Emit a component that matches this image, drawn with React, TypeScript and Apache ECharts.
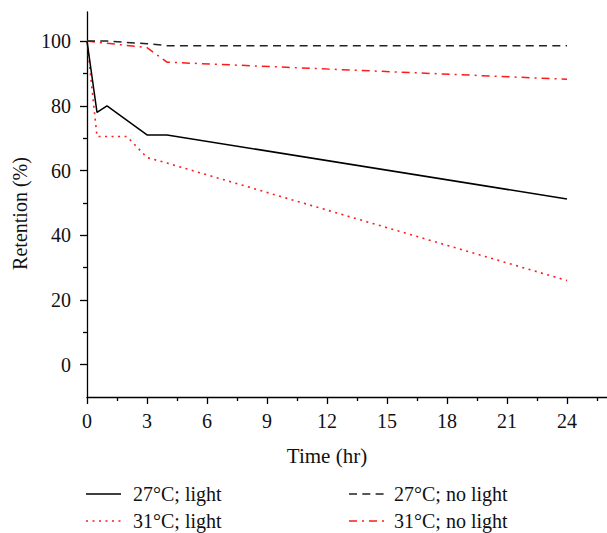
import React, { useEffect, useRef } from "react";
import * as echarts from "echarts";

// ---- data ----
const time27Light = [0, 0.5, 1, 3, 4, 24];
const ret27Light = [100, 78, 80, 71, 71, 51.2];

const time31Light = [0, 0.5, 2, 3, 4, 24];
const ret31Light = [100, 70.5, 70.5, 64, 62.3, 26];

const time27Dark = [0, 1, 3, 4, 24];
const ret27Dark = [100, 100, 99.2, 98.6, 98.6];

const time31Dark = [0, 3, 4, 24];
const ret31Dark = [100, 98, 93.5, 88.2];

const xMajorTicks = [0, 3, 6, 9, 12, 15, 18, 21, 24];
const xMinorTicks = [1.5, 4.5, 7.5, 10.5, 13.5, 16.5, 19.5, 22.5, 25.5];
const yMajorTicks = [0, 20, 40, 60, 80, 100];
const yMinorTicks = [10, 30, 50, 70, 90];

const seriesNames = ["27°C; light", "31°C; light", "27°C; no light", "31°C; no light"];

const FONT = "'Liberation Serif', 'DejaVu Serif', serif";

const RED = "#ff1a1a";
const styles = [
  { color: "#000", width: 1.5, dash: null as number[] | null },
  { color: RED, width: 1.6, dash: [2, 4.5] },
  { color: "#222", width: 1.5, dash: [8, 5.3] },
  { color: RED, width: 1.5, dash: [8, 5, 2, 5] },
];

const zip = (xs: number[], ys: number[]) => xs.map((x, i) => [x, ys[i]]);

export default function App() {
  const ref = useRef<HTMLDivElement>(null);

  useEffect(() => {
    if (!ref.current) return;
    const chart = echarts.init(ref.current, undefined, { renderer: "svg" });
    const axisColor = "#000";
    const baseX = {
      type: "value",
      min: 0,
      max: 26,
      position: "bottom",
      splitLine: { show: false },
    };
    const baseY = {
      type: "value",
      min: -10,
      max: 109,
      position: "left",
      splitLine: { show: false },
    };

    // legend drawn as graphic: [lineX1, textX, centerY]
    const legendPos = [
      [86, 133, 494],
      [86, 133, 521],
      [349, 394, 494],
      [349, 394, 521],
    ];
    const legendGraphics: any[] = [];
    seriesNames.forEach((name, i) => {
      const [lx, tx, cy] = legendPos[i];
      const st = styles[i];
      legendGraphics.push({
        type: "line",
        shape: { x1: lx, y1: cy, x2: lx + 35, y2: cy },
        style: { stroke: st.color, lineWidth: st.width, lineDash: st.dash || undefined },
        silent: true,
      });
      legendGraphics.push({
        type: "text",
        x: tx,
        y: cy,
        style: {
          text: name,
          fontSize: 20,
          fontFamily: FONT,
          fill: "#111",
          verticalAlign: "middle",
          align: "left",
        },
        silent: true,
      });
    });

    const option: any = {
      animation: false,
      backgroundColor: "#fff",
      grid: { left: 87, right: 0, top: 12, bottom: 136 },
      xAxis: [
        {
          ...baseX,
          axisLine: { show: true, onZero: false, lineStyle: { color: axisColor, width: 1.3 } },
          axisTick: { show: true, customValues: xMajorTicks, length: 7, lineStyle: { color: axisColor, width: 1.3 } },
          axisLabel: { customValues: xMajorTicks, margin: 14, fontSize: 20, color: "#111", fontFamily: FONT },
          name: "Time (hr)",
          nameLocation: "middle",
          nameGap: 48,
          nameTextStyle: { fontSize: 21, color: "#111", fontFamily: FONT, padding: [0, 40, 0, 0] },
        },
        {
          ...baseX,
          axisLine: { show: false, onZero: false },
          axisTick: { show: true, customValues: xMinorTicks, length: 4, lineStyle: { color: axisColor, width: 1.3 } },
          axisLabel: { show: false },
        },
      ],
      yAxis: [
        {
          ...baseY,
          axisLine: { show: true, onZero: false, lineStyle: { color: axisColor, width: 1.3 } },
          axisTick: { show: true, customValues: yMajorTicks, length: 7, lineStyle: { color: axisColor, width: 1.3 } },
          axisLabel: { customValues: yMajorTicks, margin: 16, fontSize: 20, color: "#111", fontFamily: FONT },
          name: "Retention (%)",
          nameLocation: "middle",
          nameGap: 56,
          nameTextStyle: { fontSize: 20, color: "#111", fontFamily: FONT, padding: [0, 18, 0, 0] },
        },
        {
          ...baseY,
          axisLine: { show: false, onZero: false },
          axisTick: { show: true, customValues: yMinorTicks, length: 4, lineStyle: { color: axisColor, width: 1.3 } },
          axisLabel: { show: false },
        },
      ],
      graphic: legendGraphics,
      series: [
        { xs: time27Light, ys: ret27Light },
        { xs: time31Light, ys: ret31Light },
        { xs: time27Dark, ys: ret27Dark },
        { xs: time31Dark, ys: ret31Dark },
      ].map((d, i) => ({
        type: "line",
        name: seriesNames[i],
        data: zip(d.xs, d.ys),
        symbol: "none",
        color: styles[i].color,
        lineStyle: {
          color: styles[i].color,
          width: styles[i].width,
          type: styles[i].dash || "solid",
        },
        z: i % 2 === 0 ? 4 : 3,
      })),
    };
    chart.setOption(option);
    return () => chart.dispose();
  }, []);

  return (
    <div
      ref={ref}
      style={{ position: "absolute", left: 0, top: 0, width: 607, height: 533, background: "#fff" }}
    />
  );
}
